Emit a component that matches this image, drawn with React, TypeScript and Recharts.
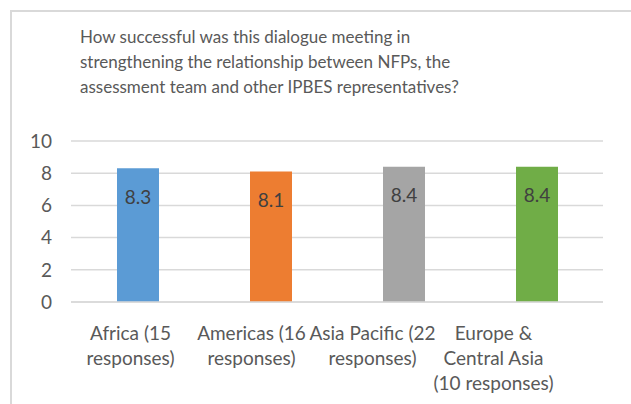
import { BarChart, Bar, XAxis, YAxis, CartesianGrid, Cell, LabelList } from 'recharts';

const regions = ['Africa', 'Americas', 'Asia Pacific', 'Europe & Central Asia'];
const scores = [8.3, 8.1, 8.4, 8.4];
const barColors = ['#5B9BD5', '#ED7D31', '#A5A5A5', '#70AD47'];
const tickLines = [
  ['Africa (15', 'responses)'],
  ['Americas (16', 'responses)'],
  ['Asia Pacific (22', 'responses)'],
  ['Europe &', 'Central Asia', '(10 responses)'],
];
const yTicks = [0, 2, 4, 6, 8, 10];
const titleLines = [
  'How successful was this dialogue meeting in',
  'strengthening the relationship between NFPs, the',
  'assessment team and other IPBES representatives?',
];

const FONT = 'Lato, "Open Sans", sans-serif';
const TEXT = '#595959';

const data = regions.map((region, i) => ({ region, score: scores[i] }));

// the original's category labels sit a little left of their bars, more so further right
function CategoryTick({ x, y, index }: any) {
  const lines = tickLines[index] || [];
  const cx = x - 7 - 12 * index;
  return (
    <text x={cx} y={y} textAnchor="middle" fill={TEXT} fontSize={19} fontFamily={FONT}>
      {lines.map((line, i) => (
        <tspan key={i} x={cx} y={y + 30 + i * 25}>
          {line}
        </tspan>
      ))}
    </text>
  );
}

function ValueLabel({ x, y, width, value }: any) {
  return (
    <text
      x={x + width / 2}
      y={y + 28}
      textAnchor="middle"
      dominantBaseline="central"
      fill="#404040"
      fontSize={19}
      fontFamily={FONT}
    >
      {value}
    </text>
  );
}

export default function App() {
  return (
    <div style={{ position: 'absolute', left: 0, top: 0, width: 631, height: 404, background: '#fff', overflow: 'hidden' }}>
      <div
        style={{
          position: 'absolute',
          left: 10,
          top: 10,
          width: 700,
          height: 500,
          borderLeft: '2px solid #d9d9d9',
          borderTop: '2px solid #d9d9d9',
        }}
      />
      <div style={{ position: 'absolute', left: 80, top: 24, fontFamily: FONT, fontSize: 17, color: TEXT, lineHeight: '25px', whiteSpace: 'nowrap' }}>
        {titleLines.map((line, i) => (
          <div key={i}>{line}</div>
        ))}
      </div>
      <div style={{ position: 'absolute', left: 0, top: 0 }}>
        <BarChart width={631} height={404} data={data} margin={{ top: 141, right: 28, bottom: 10, left: 0 }}>
          <CartesianGrid vertical={false} stroke="#d9d9d9" strokeWidth={1.5} />
          <XAxis
            dataKey="region"
            axisLine={{ stroke: '#d9d9d9', strokeWidth: 1.5 }}
            tickLine={false}
            interval={0}
            height={92}
            tick={<CategoryTick />}
          />
          <YAxis
            width={71}
            domain={[0, 10]}
            ticks={yTicks}
            axisLine={false}
            tickLine={false}
            tickSize={0}
            tickMargin={19}
            tick={{ fill: TEXT, fontSize: 19, fontFamily: FONT }}
          />
          <Bar dataKey="score" barSize={42} isAnimationActive={false}>
            {data.map((d, i) => (
              <Cell key={d.region} fill={barColors[i]} />
            ))}
            <LabelList dataKey="score" content={<ValueLabel />} />
          </Bar>
        </BarChart>
      </div>
    </div>
  );
}
